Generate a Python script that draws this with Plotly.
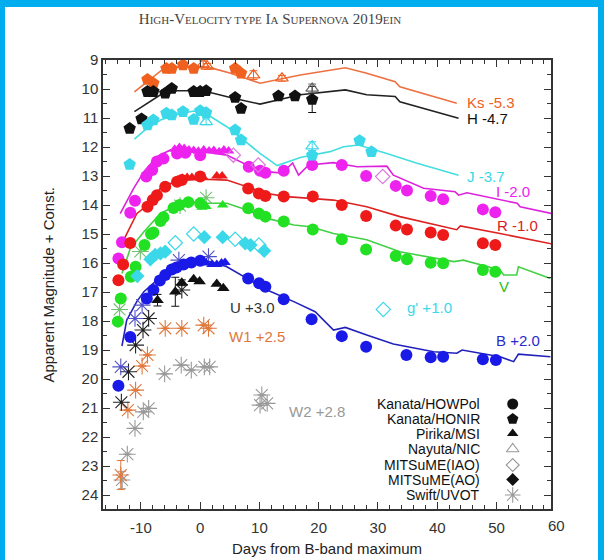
import plotly.graph_objects as go

# ---------------- data ----------------
# model light curves (lines)
ks_mx = [-11.1, -9.0, -6.5, -4.0, 0.0, 2.0, 5.0, 10.1, 16.9, 24.5, 28.1, 32.9, 33.7, 43.3]
ks_my = [10.10, 9.75, 9.35, 9.25, 9.22, 9.28, 9.45, 9.80, 9.52, 9.27, 9.46, 9.75, 9.92, 10.49]
h_mx = [-11.1, -6.7, -3.9, 0.5, 5.6, 10.1, 16.9, 24.5, 28.1, 32.9, 33.7, 43.6]
h_my = [10.78, 10.20, 10.06, 10.06, 10.32, 10.52, 10.20, 10.03, 10.20, 10.26, 10.44, 11.01]
j_mx = [-11.1, -9.0, -6.7, -3.9, -1.1, 0.6, 4.5, 7.3, 10.1, 13.0, 16.9, 21.9, 24.2, 26.7, 31.5, 36.6, 43.6]
j_my = [11.73, 11.36, 11.07, 10.88, 10.76, 10.80, 11.30, 11.76, 12.22, 12.64, 12.36, 12.16, 11.99, 11.93, 12.22, 12.56, 12.97]
i_mx = [-13.5, -11.2, -9.5, -7.3, -5.0, -2.2, 0.6, 4.5, 7.9, 11.3, 13.8, 15.6, 16.6, 18.3, 22.5, 26.5, 31.5, 32.6, 37.7, 43.0, 43.6, 45.0, 53.5, 54.0, 59.3]
i_my = [14.30, 13.42, 12.85, 12.33, 12.10, 12.16, 12.16, 12.28, 12.62, 12.85, 12.90, 12.55, 12.97, 12.62, 12.54, 12.68, 12.66, 12.97, 13.42, 13.54, 13.66, 13.58, 13.94, 14.06, 14.29]
r_mx = [-12.9, -10.7, -8.9, -6.7, -3.9, 0.6, 4.5, 7.9, 11.3, 14.6, 18.6, 22.5, 28.1, 33.7, 43.3, 43.9, 50.6, 59.3]
r_my = [15.20, 14.30, 14.00, 13.42, 13.16, 13.11, 13.14, 13.37, 13.60, 13.71, 13.77, 13.83, 14.06, 14.40, 14.85, 14.72, 14.98, 15.34]
v_mx = [-13.2, -11.8, -9.5, -6.7, -3.9, -1.1, 1.1, 4.5, 7.9, 11.3, 15.8, 18.6, 22.5, 28.1, 33.7, 42.8, 44.4, 50.6, 51.2, 53.4, 53.7, 59.1]
v_my = [16.36, 15.50, 14.92, 14.29, 14.00, 13.89, 13.94, 13.94, 14.17, 14.46, 14.69, 14.75, 14.98, 15.20, 15.61, 15.95, 15.90, 16.24, 16.41, 16.41, 16.13, 16.53]
b_mx = [-13.2, -12.4, -10.7, -9.5, -7.3, -4.5, -1.1, 1.7, 4.5, 7.9, 11.3, 15.8, 18.6, 19.4, 22.5, 24.5, 28.1, 32.6, 39.4, 43.3, 44.2, 50.6, 52.9, 53.7, 59.1]
b_my = [18.86, 17.97, 17.33, 16.99, 16.59, 16.13, 15.95, 15.95, 16.13, 16.53, 16.93, 17.33, 17.62, 17.68, 18.31, 18.22, 18.48, 18.79, 19.06, 19.11, 19.00, 19.23, 19.40, 19.14, 19.23]

# Kanata/HOWPol (filled circles)
how_i_x = [-13.8, -13.2, -11.8, -11.0, -9.1, -8.1, -7.3, -6.2, -3.9, -2.5, 0.0, 8.2, 10.1, 11.0, 14.1, 18.9, 23.9, 28.0, 33.0, 34.9, 38.9, 41.0, 47.7, 49.8]
how_i_y = [15.84, 15.28, 14.27, 13.85, 13.02, 12.79, 12.50, 12.40, 12.22, 12.20, 12.28, 12.68, 12.82, 12.89, 12.82, 12.62, 12.62, 13.00, 13.34, 13.50, 13.69, 13.80, 14.15, 14.25]
how_r_x = [-13.8, -13.0, -11.8, -8.9, -8.0, -7.3, -5.9, -3.9, -3.1, 0.0, 8.1, 9.9, 11.0, 14.1, 19.0, 23.9, 28.0, 33.0, 34.9, 38.9, 41.0, 47.7, 49.8]
how_r_y = [16.59, 16.05, 15.31, 14.06, 13.83, 13.66, 13.37, 13.20, 13.14, 13.02, 13.43, 13.60, 13.69, 13.71, 13.71, 14.00, 14.38, 14.71, 14.84, 14.95, 15.03, 15.32, 15.38]
how_v_x = [-13.9, -13.4, -11.7, -10.9, -9.4, -8.3, -7.9, -6.7, -6.2, -4.5, -3.5, -2.0, 0.0, 8.1, 9.9, 11.0, 14.1, 19.0, 23.9, 28.0, 33.0, 34.9, 38.9, 41.0, 47.7, 49.8]
how_v_y = [18.02, 17.22, 16.47, 16.13, 15.38, 15.00, 14.95, 14.55, 14.42, 14.10, 14.00, 13.90, 13.95, 14.11, 14.29, 14.40, 14.57, 14.84, 15.18, 15.53, 15.76, 15.87, 15.99, 16.01, 16.24, 16.30]
how_b_x = [-13.8, -11.8, -9.0, -7.9, -6.8, -5.9, -4.8, -4.0, -2.8, -1.5, 0.0, 8.1, 9.95, 11.0, 14.1, 18.8, 23.9, 28.0, 34.8, 38.9, 41.0, 47.7, 49.9]
how_b_y = [20.23, 18.55, 17.22, 16.93, 16.60, 16.41, 16.22, 16.15, 16.05, 15.98, 15.92, 16.53, 16.70, 16.82, 17.25, 17.94, 18.52, 18.89, 19.17, 19.25, 19.23, 19.32, 19.34]

# Kanata/HONIR (filled pentagons)
hon_ks_x = [-8.9, -7.9, -5.7, -4.8, -2.9, -1.1, 5.9, 6.9]
hon_ks_y = [9.67, 9.80, 9.29, 9.29, 9.17, 9.29, 9.29, 9.46]
hon_h_x = [-11.9, -9.9, -8.9, -7.9, -5.9, -4.8, -1.1, 0.0, 1.0, 5.9, 6.9, 13.2, 16.0, 18.9]
hon_h_y = [11.36, 11.03, 10.09, 10.09, 10.15, 9.98, 10.09, 10.09, 10.06, 10.29, 10.67, 10.24, 10.24, 10.36]
hon_h_err = [0, 0, 0, 0, 0.12, 0, 0.1, 0, 0, 0, 0, 0, 0, 0.45]
hon_j_x = [-11.9, -8.9, -7.9, -5.7, -4.8, -2.9, -1.1, 0.0, 1.0, 5.9, 6.9, 18.9, 26.9, 28.9]
hon_j_y = [12.60, 11.24, 11.07, 10.84, 10.90, 10.78, 11.05, 10.75, 10.82, 11.41, 11.76, 12.28, 11.78, 12.16]

# Pirika/MSI (filled triangles)
pir_i_x = [-4.3, -3.5, -2.7, -1.9, -1.1, -0.3, 0.6, 1.5, 2.3, 3.2, 4.0, 4.8]
pir_i_y = [12.08, 12.02, 12.05, 12.10, 12.12, 12.15, 12.10, 12.14, 12.12, 12.16, 12.10, 12.14]
pir_r_x = [-3.8, -3.0, -2.2, -1.4, 0.5, 2.8, 3.7]
pir_r_y = [13.15, 13.08, 13.05, 13.05, 13.05, 13.00, 13.00]
pir_v_x = [0.3, 1.0, 3.8]
pir_v_y = [14.08, 14.05, 14.00]
pir_b_x = [1.0, 2.0, 2.8, 3.6, 4.2]
pir_b_y = [16.00, 16.05, 16.05, 16.00, 15.98]
pir_u_x = [-7.2, -4.2, -3.1, -1.1, -0.1, 2.8, 3.9]
pir_u_y = [17.28, 16.99, 16.68, 16.56, 16.64, 16.72, 16.87]
pir_u_err = [0.2, 0.5, 0.1, 0, 0, 0, 0]

# Nayuta/NIC (open triangles)
nay_ks_x = [0.5, 1.2, 9.0, 13.8]
nay_ks_y = [9.15, 9.22, 9.52, 9.63]
nay_ks_err = [0.12, 0.1, 0.15, 0.1]
nay_h_x = [18.9]
nay_h_y = [9.98]
nay_j_x = [1.0, 18.9]
nay_j_y = [11.13, 11.97]

# MITSuME (IAO) open diamonds, (AO) filled diamonds
iao_i_x = [5.6, 9.8, 30.8]
iao_i_y = [12.28, 12.62, 13.02]
iao_g_x = [-4.2, -1.1, 5.9, 9.9, 30.9]
iao_g_y = [15.30, 15.00, 15.18, 15.38, 17.60]
ao_g_x = [-10.6, -8.4, -7.6, -6.7, -5.9, 0.7, 3.8, 7.6, 8.5, 10.8]
ao_g_y = [16.45, 15.87, 15.72, 15.67, 15.61, 15.11, 15.11, 15.32, 15.38, 15.58]

# Swift/UVOT (asterisks)
sw_v_x = [-13.6, -10.1, -3.4, 1.0]
sw_v_y = [17.60, 15.60, 14.02, 13.75]
sw_b_x = [-13.4, -11.0, -9.8, -3.6, 1.4]
sw_b_y = [19.58, 17.91, 17.45, 15.90, 15.78]
sw_u_x = [-13.3, -12.1, -10.9, -9.65, -8.7, -3.1]
sw_u_y = [20.80, 19.75, 18.83, 18.31, 17.91, 16.93]
sw_w1_x = [-13.4, -12.2, -10.9, -9.8, -8.9, -5.9, -3.1, 0.6, 1.4]
sw_w1_y = [23.31, 21.07, 20.38, 19.55, 19.17, 18.25, 18.25, 18.14, 18.25]
sw_w1_err = [0.5, 0, 0, 0, 0, 0, 0, 0, 0]
sw_w2_x = [-13.2, -12.3, -11.0, -9.6, -8.7, -6.0, -3.2, -1.5, 0.7, 1.6, 10.4, 10.1, 11.3]
sw_w2_y = [23.48, 22.59, 21.70, 21.13, 21.01, 19.82, 19.52, 19.69, 19.58, 19.58, 20.55, 20.90, 20.84]
sw_w2_err = [0.3, 0, 0, 0, 0, 0, 0, 0, 0, 0, 0, 0, 0]

band_labels = ["Ks -5.3", "H -4.7", "J -3.7", "I -2.0", "R -1.0", "V", "g' +1.0", "B +2.0", "U +3.0", "W1 +2.5", "W2 +2.8"]
band_label_x = [44.7, 44.7, 44.7, 49.5, 49.8, 50.1, 34.6, 49.6, 4.7, 4.6, 14.7]
band_label_y = [10.47, 11.01, 13.0, 13.54, 14.69, 16.82, 17.53, 18.68, 17.53, 18.54, 21.13]

legend_names = ["Kanata/HOWPol", "Kanata/HONIR", "Pirika/MSI", "Nayuta/NIC", "MITSuME(IAO)", "MITSuME(AO)", "Swift/UVOT"]
legend_symbols = ["circle", "pentagon", "triangle-up", "triangle-up-open", "diamond-open", "diamond", "asterisk-open"]

x_ticks = [-10, 0, 10, 20, 30, 40, 50]
y_ticks = list(range(9, 25))

# ---------------- style ----------------
ORANGE = "#F0601E"
BLACK = "#111111"
CYAN = "#3AD8E8"
MAGENTA = "#EE22EE"
RED = "#EE1A1A"
GREEN = "#22E022"
BLUE = "#1A1AE8"
W1C = "#E0783C"
W2C = "#999999"
AX = "#333333"
FONT = "Liberation Sans, Arial, sans-serif"

# plot-area pixel geometry
L, R, T, B = 103, 551, 60, 509
W, H = 604, 560

fig = go.Figure()

def line(xs, ys, color):
    fig.add_trace(go.Scatter(x=xs, y=ys, mode="lines", line=dict(color=color, width=1.6),
                             hoverinfo="skip", showlegend=False))

def pts(xs, ys, symbol, color, size, err=None, lw=0):
    mk = dict(symbol=symbol, color=color, size=size)
    if symbol.endswith("open"):
        mk["line"] = dict(color=color, width=1.2 if lw == 0 else lw)
    else:
        mk["line"] = dict(width=0)
    kw = {}
    if err is not None:
        kw["error_y"] = dict(type="data", array=err, visible=True, color=color, thickness=1, width=4)
    fig.add_trace(go.Scatter(x=xs, y=ys, mode="markers", marker=mk, showlegend=False, **kw))

line(ks_mx, ks_my, "#EE7040")
line(h_mx, h_my, "#222222")
line(j_mx, j_my, "#44DDE0")
line(i_mx, i_my, "#DD22DD")
line(r_mx, r_my, "#DD2222")
line(v_mx, v_my, "#44D044")
line(b_mx, b_my, "#2222BB")

# Swift (drawn first, under others)
pts(sw_w2_x, sw_w2_y, "asterisk-open", W2C, 14, err=sw_w2_err, lw=1.1)
pts(sw_w1_x, sw_w1_y, "asterisk-open", W1C, 14, err=sw_w1_err, lw=1.1)
pts(sw_u_x, sw_u_y, "asterisk-open", "#222222", 14, lw=1.1)
pts(sw_b_x, sw_b_y, "asterisk-open", "#5050C8", 14, lw=1.1)
pts(sw_v_x, sw_v_y, "asterisk-open", "#70C070", 14, lw=1.1)

# HOWPol circles
pts(how_i_x, how_i_y, "circle", MAGENTA, 12)
pts(how_r_x, how_r_y, "circle", RED, 12)
pts(how_v_x, how_v_y, "circle", GREEN, 12)
pts(how_b_x, how_b_y, "circle", BLUE, 12)

# HONIR pentagons
pts(hon_ks_x, hon_ks_y, "pentagon", ORANGE, 13)
pts(hon_h_x, hon_h_y, "pentagon", BLACK, 13, err=hon_h_err)
pts(hon_j_x, hon_j_y, "pentagon", CYAN, 13)

# Pirika triangles
pts(pir_i_x, pir_i_y, "triangle-up", MAGENTA, 10)
pts(pir_r_x, pir_r_y, "triangle-up", RED, 10)
pts(pir_v_x, pir_v_y, "triangle-up", GREEN, 10)
pts(pir_b_x, pir_b_y, "triangle-up", BLUE, 10)
pts(pir_u_x, pir_u_y, "triangle-up", BLACK, 11, err=pir_u_err)

# Nayuta open triangles
pts(nay_ks_x, nay_ks_y, "triangle-up-open", ORANGE, 11, err=nay_ks_err)
pts(nay_h_x, nay_h_y, "triangle-up-open", "#666666", 11, err=[0.15])
pts(nay_j_x, nay_j_y, "triangle-up-open", CYAN, 11, err=[0.1, 0.15])

# MITSuME diamonds
pts(iao_i_x, iao_i_y, "diamond-open", "#DD77DD", 11)
pts(iao_g_x, iao_g_y, "diamond-open", CYAN, 11)
pts(ao_g_x, ao_g_y, "diamond", CYAN, 11)

# ---------------- legend (own pixel-space overlay axes) ----------------
leg_rows = [404, 419, 433.5, 449, 465, 479.5, 495]
leg_sizes = [11, 12, 10, 11, 10, 10, 13]
for i, sym in enumerate(legend_symbols):
    mk = dict(symbol=sym, color="#111111", size=leg_sizes[i])
    if sym.endswith("open"):
        mk["line"] = dict(color="#999999", width=1.1)
        mk["color"] = "#999999"
    else:
        mk["line"] = dict(width=0)
    fig.add_trace(go.Scatter(x=[512.7], y=[leg_rows[i]], mode="markers", marker=mk,
                             xaxis="x2", yaxis="y2", showlegend=False, hoverinfo="skip"))

annotations = []
for i, name in enumerate(legend_names):
    annotations.append(dict(x=482, y=leg_rows[i], xref="x2", yref="y2", text=name, showarrow=False,
                            xanchor="right", yanchor="middle", font=dict(family=FONT, size=14, color="#111111")))

label_colors = [ORANGE, BLACK, CYAN, MAGENTA, "#D82020", "#22C022", CYAN, "#2A2ACC", "#333333", W1C, W2C]
for t, x, y, c in zip(band_labels, band_label_x, band_label_y, label_colors):
    annotations.append(dict(x=x, y=y, xref="x", yref="y", text=t, showarrow=False, xanchor="left",
                            yanchor="middle", font=dict(family=FONT, size=15, color=c)))

# axis titles
annotations.append(dict(x=(48 - L) / (R - L), y=0.5, xref="paper", yref="paper", textangle=-90,
                        text="Apparent Magnitude + Const.", showarrow=False, xanchor="center", yanchor="middle",
                        font=dict(family=FONT, size=15, color="#222222")))
annotations.append(dict(x=0.5, y=(B - 548) / (B - T), xref="paper", yref="paper",
                        text="Days from B-band maximum", showarrow=False, xanchor="center", yanchor="middle",
                        font=dict(family=FONT, size=15, color="#222222")))
# the "60" tick label lying just past the frame
annotations.append(dict(x=(556 - L) / (R - L), y=(B - 525) / (B - T), xref="paper", yref="paper", text="60",
                        showarrow=False, xanchor="center", yanchor="middle",
                        font=dict(family=FONT, size=15, color="#333333")))

sc = "font-size:11px"
title_html = ("H<span style='%s'>IGH</span>-V<span style='%s'>ELOCITY TYPE</span> I<span style='%s'>A</span> "
              "S<span style='%s'>UPERNOVA</span> 2019<span style='%s'>EIN</span>") % (sc, sc, sc, sc, sc)

# blue frame around the picture
def px2paper_x(px):
    return (px - L) / (R - L)

def px2paper_y(py):
    return (B - py) / (B - T)

BORDER = "#00AEEF"
shapes = [
    dict(type="rect", xref="paper", yref="paper", x0=px2paper_x(0), x1=px2paper_x(5),
         y0=px2paper_y(H), y1=px2paper_y(0), fillcolor=BORDER, line=dict(width=0), layer="below"),
    dict(type="rect", xref="paper", yref="paper", x0=px2paper_x(0), x1=px2paper_x(W),
         y0=px2paper_y(7), y1=px2paper_y(0), fillcolor=BORDER, line=dict(width=0), layer="below"),
    dict(type="rect", xref="paper", yref="paper", x0=px2paper_x(598), x1=px2paper_x(W),
         y0=px2paper_y(H), y1=px2paper_y(0), fillcolor=BORDER, line=dict(width=0), layer="below"),
]

fig.update_layout(
    width=W, height=H,
    margin=dict(l=L, r=W - R, t=T, b=H - B, pad=0),
    paper_bgcolor="white", plot_bgcolor="white",
    showlegend=False,
    title=dict(text=title_html, x=270 / W, y=1 - 19 / H, xanchor="center", yanchor="middle",
               font=dict(family="Liberation Serif, Times New Roman, serif", size=15, color="#444444")),
    xaxis=dict(range=[-16.4, 59.2], tickmode="array", tickvals=x_ticks, ticktext=[str(v) for v in x_ticks],
               ticks="inside", ticklen=7, tickwidth=1, tickcolor=AX, showline=True, linecolor=AX, linewidth=1.5,
               mirror="allticks", showgrid=False, zeroline=False, ticklabelstandoff=4,
               tickfont=dict(family=FONT, size=15, color="#333333"),
               minor=dict(ticks="inside", ticklen=4, dtick=2, tick0=0, tickcolor=AX, showgrid=False)),
    yaxis=dict(range=[24.48, 9], tickmode="array", tickvals=y_ticks, ticktext=[str(v) for v in y_ticks],
               ticks="inside", ticklen=7, tickwidth=1, tickcolor=AX, showline=True, linecolor=AX, linewidth=1.5,
               mirror="allticks", showgrid=False, zeroline=False,
               tickfont=dict(family=FONT, size=15, color="#333333"),
               minor=dict(ticks="inside", ticklen=4, dtick=0.5, tick0=9, tickcolor=AX, showgrid=False)),
    xaxis2=dict(range=[L, R], overlaying="x", anchor="y2", visible=False, showgrid=False, zeroline=False),
    yaxis2=dict(range=[B, T], overlaying="y", anchor="x2", visible=False, showgrid=False, zeroline=False),
    annotations=annotations,
    shapes=shapes,
)

fig.write_html("out.html")
